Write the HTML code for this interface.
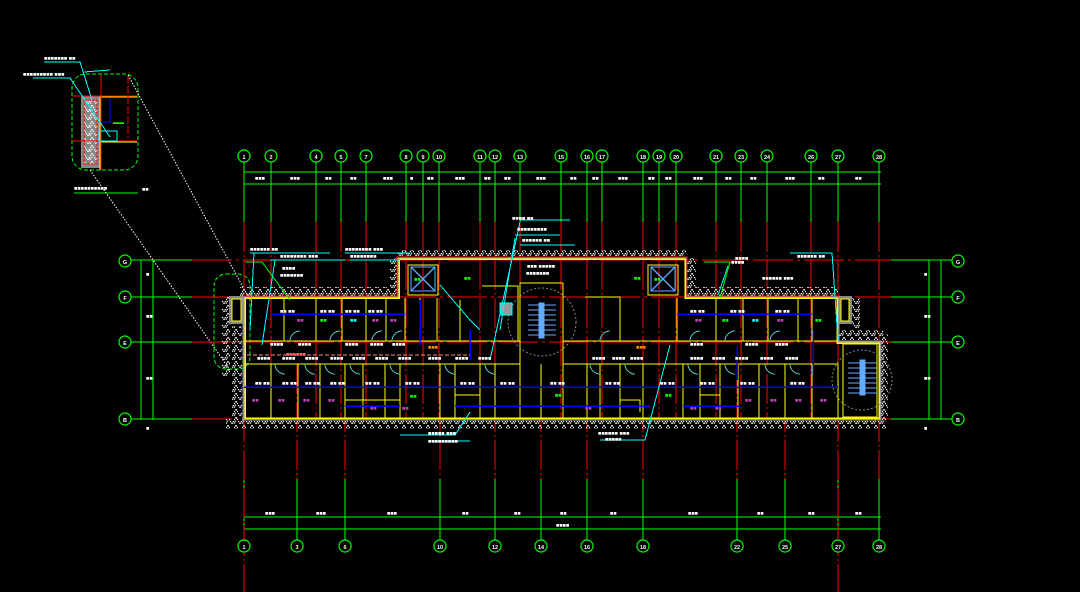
<!DOCTYPE html>
<html><head><meta charset="utf-8"><style>
html,body{margin:0;padding:0;background:#000;width:1080px;height:592px;overflow:hidden}
svg{display:block}
line,rect,path{shape-rendering:crispEdges}
text{font-family:"Liberation Sans","Noto Sans CJK SC",sans-serif;fill:#fff;font-size:5.5px;font-weight:bold}
</style></head><body>
<svg width="1080" height="592" viewBox="0 0 1080 592" xmlns="http://www.w3.org/2000/svg">
<defs>
<pattern id="h" width="8" height="8" patternUnits="userSpaceOnUse">
<path d="M0 8 L4 1 L8 8 M2 8 L4 4" stroke="#fff" stroke-width="1" fill="none" stroke-dasharray="1.5 0.6"/>
</pattern>
</defs>
<rect width="1080" height="592" fill="#000"/>

<!-- inset detail -->
<g>
<rect x="72" y="74" width="66" height="96" rx="14" fill="none" stroke="#0f0" stroke-dasharray="4 2"/>
<rect x="81" y="96" width="20" height="72" fill="#888"/>
<rect x="84" y="100" width="13" height="64" fill="url(#h)" stroke="#f00" stroke-dasharray="3 1"/>
<line x1="100" y1="96" x2="100" y2="170" stroke="#ff0" stroke-width="1.2"/>
<line x1="100" y1="97" x2="137" y2="97" stroke="#ff0" stroke-width="1.2"/>
<line x1="100" y1="142" x2="137" y2="142" stroke="#ff0" stroke-width="1.2"/>
<line x1="72" y1="96" x2="137" y2="96" stroke="#f00"/>
<line x1="72" y1="141" x2="137" y2="141" stroke="#f00"/>
<line x1="101" y1="75" x2="101" y2="170" stroke="#f00"/>
<line x1="128" y1="76" x2="128" y2="138" stroke="#f00" stroke-dasharray="8 2"/>
<line x1="110" y1="98" x2="110" y2="122" stroke="#00f" stroke-width="1.2"/>
<line x1="102" y1="122" x2="112" y2="122" stroke="#00f"/>
<text x="113" y="124" style="fill:#0f0">▬▬</text>
<rect x="99" y="131" width="18" height="10" fill="none" stroke="#0ff"/>
<path d="M110 70 L84 72 M33 78 L70 78 L110 137 M44 62 L80 62 L92 100" stroke="#0ff" fill="none"/>
<text x="44" y="60">■■■■■■■ ■■</text><text x="23" y="76">■■■■■■■■■  ■■■</text>
<line x1="74" y1="193" x2="138" y2="193" stroke="#0f0"/>
<text x="74" y="190">■■■■■■■■■■</text><text x="142" y="191">■■</text>
</g>
<path d="M128 75 L250 300 M90 170 L230 370" stroke="#fff" stroke-dasharray="1.5 1.5" fill="none" style="shape-rendering:auto"/>
<rect x="214" y="274" width="36" height="95" rx="12" fill="none" stroke="#0f0" stroke-dasharray="4 2" style="shape-rendering:auto"/>

<g stroke="#0f0" fill="none">
<line x1="244" y1="172" x2="881" y2="172"/><line x1="244" y1="184" x2="881" y2="184"/>
<line x1="244" y1="517" x2="881" y2="517"/><line x1="244" y1="529" x2="881" y2="529"/>
<line x1="141" y1="260" x2="141" y2="420"/><line x1="153" y1="260" x2="153" y2="420"/>
<line x1="929" y1="260" x2="929" y2="420"/><line x1="941" y1="260" x2="941" y2="420"/>
<path d="M131 260H192M131 297H192M131 342H192M131 419H192M891 260H952M891 297H952M891 342H952M891 419H952"/>
</g>
<g stroke="#f00" stroke-dasharray="40 4 3 4">
<path d="M192 260H891M192 297H891M192 342H891M192 419H891"/>
</g>
<g>
<g stroke="#0f0"><path d="M244 162V222M271 162V222M316 162V222M341 162V222M366 162V222M406 162V222M423 162V222M439 162V222M480 162V222M495 162V222M520 162V222M561 162V222M587 162V222M602 162V222M643 162V222M659 162V222M676 162V222M716 162V222M741 162V222M767 162V222M811 162V222M838 162V222M879 162V222"/>
<path d="M244 479V540M297 479V540M345 479V540M440 479V540M495 479V540M541 479V540M587 479V540M643 479V540M737 479V540M785 479V540M838 479V540M879 479V540"/></g>
<g stroke="#f00" stroke-dasharray="30 3 2 3"><path d="M244 222V592M271 222V419M316 222V419M341 222V419M366 222V419M406 222V419M423 222V419M439 222V419M480 222V419M495 222V419M520 222V419M561 222V419M587 222V419M602 222V419M643 222V419M659 222V419M676 222V419M716 222V419M741 222V419M767 222V419M811 222V419M838 222V592M879 222V479"/>
<path d="M297 364V479M345 364V479M440 364V479M495 364V479M541 364V479M587 364V479M643 364V479M737 364V479M785 364V479"/></g>
</g>
<g fill="#000" stroke="#0f0" stroke-width="1.2">
<circle cx="244" cy="156" r="6"/><circle cx="271" cy="156" r="6"/><circle cx="316" cy="156" r="6"/><circle cx="341" cy="156" r="6"/><circle cx="366" cy="156" r="6"/><circle cx="406" cy="156" r="6"/><circle cx="423" cy="156" r="6"/><circle cx="439" cy="156" r="6"/><circle cx="480" cy="156" r="6"/><circle cx="495" cy="156" r="6"/><circle cx="520" cy="156" r="6"/><circle cx="561" cy="156" r="6"/><circle cx="587" cy="156" r="6"/><circle cx="602" cy="156" r="6"/><circle cx="643" cy="156" r="6"/><circle cx="659" cy="156" r="6"/><circle cx="676" cy="156" r="6"/><circle cx="716" cy="156" r="6"/><circle cx="741" cy="156" r="6"/><circle cx="767" cy="156" r="6"/><circle cx="811" cy="156" r="6"/><circle cx="838" cy="156" r="6"/><circle cx="879" cy="156" r="6"/>
<circle cx="244" cy="546" r="6"/><circle cx="297" cy="546" r="6"/><circle cx="345" cy="546" r="6"/><circle cx="440" cy="546" r="6"/><circle cx="495" cy="546" r="6"/><circle cx="541" cy="546" r="6"/><circle cx="587" cy="546" r="6"/><circle cx="643" cy="546" r="6"/><circle cx="737" cy="546" r="6"/><circle cx="785" cy="546" r="6"/><circle cx="838" cy="546" r="6"/><circle cx="879" cy="546" r="6"/>
<circle cx="125" cy="261" r="6"/><circle cx="125" cy="297" r="6"/><circle cx="125" cy="342" r="6"/><circle cx="125" cy="419" r="6"/>
<circle cx="958" cy="261" r="6"/><circle cx="958" cy="297" r="6"/><circle cx="958" cy="342" r="6"/><circle cx="958" cy="419" r="6"/>
</g>
<g style="font-size:7.5px" text-anchor="middle">
<text x="244" y="159">1</text><text x="271" y="159">2</text><text x="316" y="159">4</text><text x="341" y="159">5</text><text x="366" y="159">7</text><text x="406" y="159">8</text><text x="423" y="159">9</text><text x="439" y="159">10</text><text x="480" y="159">11</text><text x="495" y="159">12</text><text x="520" y="159">13</text><text x="561" y="159">15</text><text x="587" y="159">16</text><text x="602" y="159">17</text><text x="643" y="159">18</text><text x="659" y="159">19</text><text x="676" y="159">20</text><text x="716" y="159">21</text><text x="741" y="159">23</text><text x="767" y="159">24</text><text x="811" y="159">26</text><text x="838" y="159">27</text><text x="879" y="159">28</text>
<text x="244" y="549">1</text><text x="297" y="549">3</text><text x="345" y="549">6</text><text x="440" y="549">10</text><text x="495" y="549">12</text><text x="541" y="549">14</text><text x="587" y="549">16</text><text x="643" y="549">18</text><text x="737" y="549">22</text><text x="785" y="549">25</text><text x="838" y="549">27</text><text x="879" y="549">28</text>
<text x="125" y="264">G</text><text x="125" y="300">F</text><text x="125" y="345">E</text><text x="125" y="422">B</text>
<text x="958" y="264">G</text><text x="958" y="300">F</text><text x="958" y="345">E</text><text x="958" y="422">B</text>
</g>
<g style="font-size:4.5px">
<text x="255" y="180">■■■</text><text x="290" y="180">■■■</text><text x="325" y="180">■■</text><text x="350" y="180">■■</text><text x="383" y="180">■■■</text><text x="410" y="180">■</text><text x="427" y="180">■■</text><text x="455" y="180">■■■</text><text x="484" y="180">■■</text><text x="504" y="180">■■</text><text x="536" y="180">■■■</text><text x="570" y="180">■■</text><text x="592" y="180">■■</text><text x="618" y="180">■■■</text><text x="648" y="180">■■</text><text x="665" y="180">■■</text><text x="693" y="180">■■■</text><text x="725" y="180">■■</text><text x="750" y="180">■■</text><text x="785" y="180">■■■</text><text x="818" y="180">■■</text><text x="855" y="180">■■</text>
<text x="265" y="515">■■■</text><text x="316" y="515">■■■</text><text x="387" y="515">■■■</text><text x="462" y="515">■■</text><text x="514" y="515">■■</text><text x="560" y="515">■■</text><text x="610" y="515">■■</text><text x="688" y="515">■■■</text><text x="757" y="515">■■</text><text x="808" y="515">■■</text><text x="855" y="515">■■</text><text x="556" y="527">■■■■</text>
<text x="146" y="276">■</text><text x="146" y="318">■■</text><text x="146" y="380">■■</text><text x="146" y="430">■</text>
<text x="924" y="276">■</text><text x="924" y="318">■■</text><text x="924" y="380">■■</text><text x="924" y="430">■</text>
</g>

<g fill="url(#h)">
<rect x="240" y="287" width="158" height="10"/><rect x="686" y="287" width="152" height="10"/>
<rect x="398" y="250" width="288" height="8"/>
<rect x="226" y="419" width="660" height="10"/>
<rect x="222" y="296" width="8" height="80"/><rect x="232" y="326" width="10" height="93"/>
<rect x="686" y="258" width="10" height="30"/><rect x="390" y="258" width="8" height="30"/>
<rect x="880" y="334" width="8" height="85"/><rect x="838" y="330" width="45" height="10"/><rect x="852" y="298" width="8" height="30"/>
</g>

<g fill="none">
<rect x="229" y="296" width="15" height="28" fill="#888"/>
<rect x="232" y="299" width="9" height="22" fill="#000" stroke="#ff0"/>
<rect x="838" y="296" width="14" height="28" fill="#888"/>
<rect x="841" y="299" width="8" height="22" fill="#000" stroke="#ff0"/>
<path d="M244 297H398V258H686V297H838V342H880V419H244Z" stroke="#999" stroke-width="3"/>
<path d="M245 298H399V259H685V298H837V343H879V418H245Z" stroke="#ff0" stroke-width="1.5"/>
<path d="M243 296H397V257H687V296H839" stroke="#f00" stroke-width="1"/>
<g stroke="#ff0" stroke-width="1.4">
<path d="M244 341H520M563 341H838M244 364H520M563 364H838"/>
<path d="M284 298V341M316 298V341M342 298V341M366 298V341M386 298V341M405 298V341M420 298V341M437 298V341M460 300V341M677 298V341M716 298V341M743 298V341M768 298V341M798 298V341M812 298V341"/>
<path d="M271 364V419M298 364V419M320 364V419M345 364V419M363 364V419M385 364V419M400 364V419M440 364V419M455 364V419M480 364V419M495 364V419M520 364V419M541 364V419M563 364V419M587 364V419M600 364V419M620 364V419M643 364V419M683 364V419M700 364V419M720 364V419M738 364V419M759 364V419M785 364V419M812 364V419M838 364V419"/>
<path d="M520 283V364M563 283V364M520 283H563"/>
<path d="M408 265H438V295H408Z M648 265H678V295H648Z"/>
<path d="M585 297H620V341M482 286H518V341H470"/>
<path d="M345 400H400V412M455 395H480V412M620 400H640V412M700 395H720V410"/>
<rect x="843" y="344" width="34" height="73"/>
</g>
<g stroke="#6af" stroke-width="1.3">
<rect x="411" y="267" width="24" height="24"/><path d="M411 267L435 291M435 267L411 291" style="shape-rendering:auto"/>
<rect x="651" y="267" width="24" height="24"/><path d="M651 267L675 291M675 267L651 291" style="shape-rendering:auto"/>
<path d="M528 305H556M528 310H556M528 315H556M528 320H556M528 325H556M528 330H556M528 335H556"/>
<rect x="539" y="303" width="5" height="35" fill="#6af"/>
<path d="M848 363H877M848 368H877M848 373H877M848 378H877M848 383H877M848 388H877M848 393H877"/>
<rect x="860" y="360" width="5" height="35" fill="#6af"/>
</g>
<circle cx="542" cy="322" r="34" stroke="#888" stroke-dasharray="2 2"/>
<circle cx="862" cy="380" r="30" stroke="#888" stroke-dasharray="2 2"/>
<rect x="500" y="303" width="12" height="12" fill="#999" stroke="#0ff"/>
</g>
<g stroke="#00f" stroke-width="1.5" fill="none">
<path d="M271 314H405M677 314H812M244 387H838M345 406H400M455 406H650M683 406H740"/>
<path d="M420 300V345M470 330V360M813 330V375M737 345V380"/>
</g>
<line x1="247" y1="355" x2="470" y2="355" stroke="#f88" stroke-dasharray="4 2"/>
<g stroke="#5bb" fill="none" stroke-width="1" style="shape-rendering:auto">
<path d="M290 341A10 10 0 0 1 300 331M330 341A10 10 0 0 1 340 331M372 341A10 10 0 0 1 382 331M392 341A10 10 0 0 1 402 331M690 341A10 10 0 0 1 700 331M725 341A10 10 0 0 1 735 331M770 341A10 10 0 0 1 780 331M600 341A10 10 0 0 1 610 331"/>
<path d="M275 364A10 10 0 0 0 285 374M305 364A10 10 0 0 0 315 374M325 364A10 10 0 0 0 335 374M350 364A10 10 0 0 0 360 374M390 364A10 10 0 0 0 400 374M445 364A10 10 0 0 0 455 374M485 364A10 10 0 0 0 495 374M590 364A10 10 0 0 0 600 374M625 364A10 10 0 0 0 635 374M688 364A10 10 0 0 0 698 374M725 364A10 10 0 0 0 735 374M765 364A10 10 0 0 0 775 374M790 364A10 10 0 0 0 800 374"/>
</g>
<g stroke="#0ff" fill="none" stroke-width="1" style="shape-rendering:auto">
<path d="M250 253H330M270 260H345M345 253H410M350 260H400"/>
<path d="M254 253L250 330M275 260L262 345"/>
<path d="M470 412L455 435H400M430 441H470"/>
<path d="M670 345L645 440H600"/>
<path d="M520 220H570M515 235H560M520 245H575M520 222L490 360M515 238L500 330"/>
<path d="M440 285L470 320L480 330"/>
<path d="M790 253H832L838 340M728 266L718 295"/>
</g>
<path d="M245 262H262L290 300" stroke="#0f0" fill="none" style="shape-rendering:auto"/>
<path d="M704 262H730L720 298" stroke="#0f0" fill="none" style="shape-rendering:auto"/>
<g style="font-size:5px">
<text x="250" y="251">■■■■■■ ■■</text><text x="280" y="258">■■■■■■■■ ■■■</text><text x="282" y="270">■■■■</text><text x="280" y="277">■■■■■■■</text>
<text x="345" y="251">■■■■■■■■ ■■■</text><text x="350" y="258">■■■■■■■■</text>
<text x="512" y="220">■■■■ ■■</text><text x="517" y="231">■■■■■■■■■</text><text x="522" y="242">■■■■■■ ■■</text>
<text x="527" y="268">■■■ ■■■■■</text><text x="526" y="275">■■■■■■■</text>
<text x="428" y="435">■■■■■ ■■■</text><text x="428" y="443">■■■■■■■■■</text>
<text x="598" y="435">■■■■■■ ■■■</text><text x="605" y="441">■■■■■</text>
<text x="735" y="260">■■■■</text><text x="731" y="264">■■■■</text>
<text x="762" y="280">■■■■■■ ■■■</text><text x="797" y="258">■■■■■■ ■■</text>
</g>
<g style="font-size:4px">
<text x="257" y="360">■■■■</text><text x="282" y="360">■■■■</text><text x="305" y="360">■■■■</text><text x="330" y="360">■■■■</text><text x="352" y="360">■■■■</text><text x="375" y="360">■■■■</text><text x="398" y="360">■■■■</text>
<text x="428" y="360">■■■■</text><text x="455" y="360">■■■■</text><text x="478" y="360">■■■■</text><text x="592" y="360">■■■■</text><text x="612" y="360">■■■■</text><text x="630" y="360">■■■■</text>
<text x="690" y="360">■■■■</text><text x="712" y="360">■■■■</text><text x="735" y="360">■■■■</text><text x="760" y="360">■■■■</text><text x="785" y="360">■■■■</text>
<text x="270" y="346">■■■■</text><text x="298" y="346">■■■■</text><text x="345" y="346">■■■■</text><text x="370" y="346">■■■■</text><text x="392" y="346">■■■■</text>
<text x="690" y="346">■■■■</text><text x="745" y="346">■■■■</text><text x="775" y="346">■■■■</text>
<text x="255" y="385">■■ ■■</text><text x="282" y="385">■■ ■■</text><text x="305" y="385">■■ ■■</text><text x="330" y="385">■■ ■■</text><text x="365" y="385">■■ ■■</text><text x="405" y="385">■■ ■■</text><text x="460" y="385">■■ ■■</text><text x="500" y="385">■■ ■■</text><text x="550" y="385">■■ ■■</text><text x="605" y="385">■■ ■■</text><text x="660" y="385">■■ ■■</text><text x="700" y="385">■■ ■■</text><text x="740" y="385">■■ ■■</text><text x="790" y="385">■■ ■■</text>
<text x="280" y="313">■■ ■■</text><text x="320" y="313">■■ ■■</text><text x="345" y="313">■■ ■■</text><text x="368" y="313">■■ ■■</text><text x="690" y="313">■■ ■■</text><text x="730" y="313">■■ ■■</text><text x="775" y="313">■■ ■■</text>
</g>
<g style="font-size:5.5px">
<text x="297" y="322" style="fill:#b4b">■■</text><text x="320" y="322" style="fill:#0f0">■■</text><text x="350" y="322" style="fill:#0ff">■■</text><text x="372" y="322" style="fill:#b4b">■■</text><text x="390" y="322" style="fill:#b4b">■■</text>
<text x="695" y="322" style="fill:#b4b">■■</text><text x="722" y="322" style="fill:#0f0">■■</text><text x="752" y="322" style="fill:#0ff">■■</text><text x="777" y="322" style="fill:#b4b">■■</text><text x="815" y="322" style="fill:#0f0">■■</text>
<text x="252" y="402" style="fill:#b4b">■■</text><text x="278" y="402" style="fill:#b4b">■■</text><text x="303" y="402" style="fill:#b4b">■■</text><text x="328" y="402" style="fill:#b4b">■■</text><text x="370" y="410" style="fill:#b4b">■■</text><text x="402" y="410" style="fill:#b4b">■■</text><text x="410" y="398" style="fill:#0f0">■■</text>
<text x="555" y="397" style="fill:#0f0">■■</text><text x="585" y="410" style="fill:#b4b">■■</text><text x="665" y="397" style="fill:#0f0">■■</text><text x="690" y="410" style="fill:#b4b">■■</text><text x="715" y="410" style="fill:#b4b">■■</text><text x="745" y="402" style="fill:#b4b">■■</text><text x="770" y="402" style="fill:#b4b">■■</text><text x="795" y="402" style="fill:#b4b">■■</text><text x="820" y="402" style="fill:#b4b">■■</text>
<text x="464" y="280" style="fill:#0f0">■■</text><text x="634" y="280" style="fill:#0f0">■■</text><text x="414" y="281" style="fill:#0f0">■■</text><text x="654" y="281" style="fill:#0f0">■■</text>
<text x="286" y="356" style="fill:#f66">■■■■■■</text><text x="428" y="349" style="fill:#f80">■■■</text><text x="636" y="349" style="fill:#f80">■■■</text>
</g>
</svg>
</body></html>
